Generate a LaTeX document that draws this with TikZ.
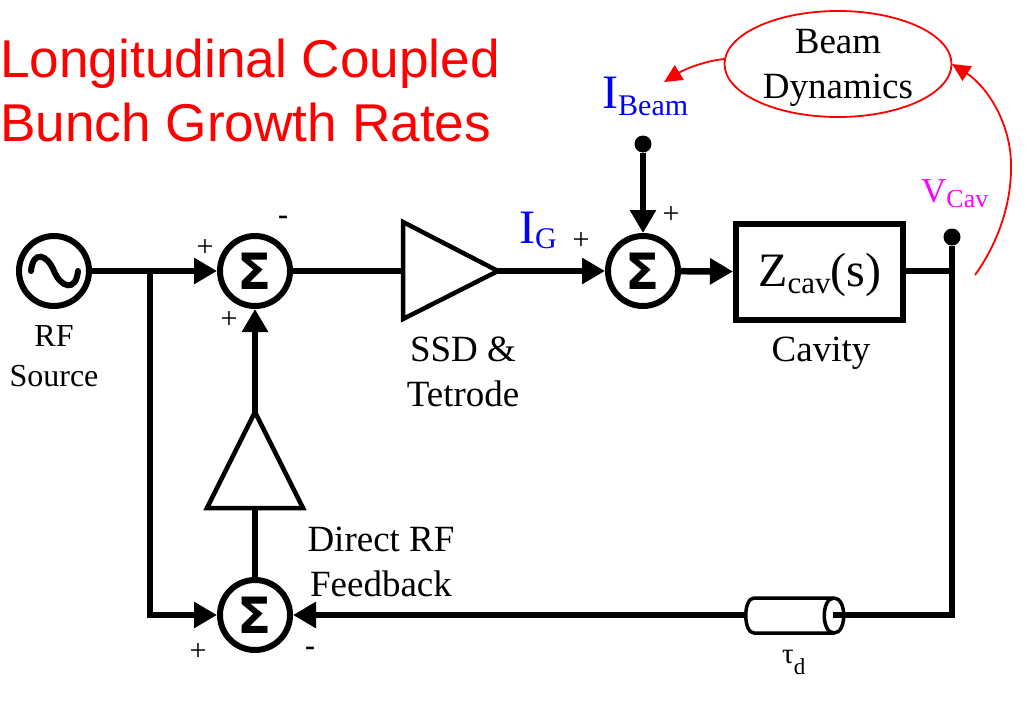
\documentclass[tikz,border=0pt]{standalone}
\usepackage{fontspec}
\setmainfont{Liberation Serif}
\newfontfamily\titlefont{Liberation Sans}
\newfontfamily\sigmafont{DejaVu Sans Bold}
\usetikzlibrary{arrows.meta,calc,shapes.geometric}
\definecolor{tred}{RGB}{255,0,0}
\definecolor{tblue}{RGB}{0,0,255}
\definecolor{tmag}{RGB}{255,0,255}
\newcommand\bigsub[5]{{\fontsize{#2}{#2}\selectfont #1}\raisebox{-#5pt}{\fontsize{#4}{#4}\selectfont #3}}
\tikzset{
  x=1pt,y=-1pt,
  wire/.style={line width=6.5pt,line join=miter},
  flow/.style={wire,-{Triangle[length=23pt,width=25pt]}},
  sumnode/.style={circle,draw,line width=6pt,minimum size=70pt,inner sep=0pt,font=\sigmafont\fontsize{50}{50}\selectfont},
  dotnode/.style={circle,fill=black,minimum size=17pt,inner sep=0pt},
  lab/.style={font=\fontsize{37}{45}\selectfont,align=center,inner sep=0pt},
  small/.style={font=\fontsize{32}{40}\selectfont,align=center,inner sep=0pt},
  sign/.style={font=\fontsize{30}{30}\selectfont,inner sep=0pt},
  minus/.style={font=\bfseries\fontsize{30}{30}\selectfont,inner sep=0pt},
  basew/.style={anchor=base west,inner sep=0pt},
  titletext/.style={basew,font=\titlefont\fontsize{53.2}{53.2}\selectfont,text=tred},
  redflow/.style={draw=tred,line width=1.8pt,-{Triangle[length=18pt,width=17pt]}},
  tri/.style={line width=4.5pt,line join=miter,fill=white},
}
\begin{document}
\begin{tikzpicture}
\useasboundingbox (0,0) rectangle (1028,726);
% nodes
\node[sumnode] (src) at (54,271) {};
\draw[line width=6pt,line cap=round] (31,271) .. controls (33,250) and (47,254) .. (54,271) .. controls (61,288) and (76,292) .. (78,271);
\node[sumnode] (s1) at (255,271) {Σ};
\node[sumnode] (s2) at (643,271) {Σ};
\node[sumnode] (s3) at (255,615) {Σ};
\node[draw,line width=6pt,minimum width=167pt,minimum height=96pt,inner sep=0pt] (cav) at (819.5,272) {};
\node[basew] (cavt) at (758,286) {\bigsub{Z}{48}{cav}{31}{7}{\fontsize{48}{48}\selectfont (s)}};
\node[dotnode] (ibd) at (643,144) {};
\node[dotnode] (vcd) at (952,237) {};
\coordinate (t1a) at (403,222);
\coordinate (t1b) at (403,319);
\coordinate (t1c) at (498,271);
\coordinate (t1in) at (403,271);
\coordinate (t2a) at (255,412);
\coordinate (t2b) at (207,508);
\coordinate (t2c) at (303,508);
\coordinate (t2in) at (255,508);
\coordinate (j1) at (150,271);
\coordinate (j2) at (150,615);
\coordinate (j3) at (952,271);
\coordinate (j4) at (952,615);
\coordinate (dl) at (748,615);
\coordinate (dr) at (834,615);
% wires
\draw[wire] (src) -- (j1);
\draw[flow] (j1) -- (s1);
\draw[flow] (j1) -- (j2) -- (s3);
\draw[wire] (s1) -- (t1in);
\draw[flow] (t1c) -- (s2);
\draw[flow] (ibd) -- (s2);
\draw[flow] (s2) -- (cav);
\draw[wire] (cav.east |- j3) -- (j3);
\draw[wire] (vcd) -- (j4) -- (dr);
\draw[flow] (dl) -- (s3);
\draw[flow] (t2a) -- (s1);
\draw[wire] (s3) -- (t2in);
% triangles
\draw[tri] (t1a) -- (t1c) -- (t1b) -- cycle;
\draw[tri] (t2a) -- (t2c) -- (t2b) -- cycle;
% delay cylinder
\draw[line width=3.5pt,fill=white] (754,598) -- (834,598) .. controls (847,598) and (847,633) .. (834,633) -- (754,633) .. controls (743,633) and (743,598) .. (754,598) -- cycle;
\draw[line width=3.5pt] (834,598) .. controls (821,598) and (821,633) .. (834,633);
\draw[wire] (833,615) -- (850,615);
% red
\node[draw=tred,line width=1.8pt,ellipse,minimum width=227pt,minimum height=106pt,inner sep=0pt] (bd) at (838,64) {};
\node[lab] (bdt) at (838,68) {Beam\\Dynamics};
\coordinate (bdl) at (724,59);
\coordinate (bdr) at (952,64);
\coordinate (vs) at (975,275);
\coordinate (ib) at (664,82);
\draw[redflow] (bdl) .. controls (705,61) and (685,69) .. (ib);
\draw[redflow] (vs) .. controls (1000,240) and (1012,200) .. (1011,163) .. controls (1010,120) and (985,85) .. (bdr);
% text
\node[titletext] (ti1) at (0,77) {Longitudinal Coupled};
\node[titletext] (ti2) at (0,141) {Bunch Growth Rates};
\node[small] (rf) at (54,356) {RF\\Source};
\node[lab] (ssd) at (463,372) {SSD \&\\Tetrode};
\node[lab] (cv) at (821,353) {Cavity};
\node[lab] (drf) at (381,562) {Direct RF\\Feedback};
\node[basew,text=tblue] (ig) at (519,243) {\bigsub{I}{48}{G}{30}{5}};
\node[basew,text=tblue] (ibt) at (602,108) {\bigsub{I}{48}{Beam}{30}{7}};
\node[basew,text=tmag] (vc) at (921,202) {\bigsub{V}{35}{Cav}{26}{5}};
\node[basew] (tau) at (782,663) {\bigsub{τ}{29}{d}{23}{11}};
\node[sign] (p1) at (205,248) {+};
\node[sign] (p2) at (229,320) {+};
\node[minus] (m1) at (283,220) {-};
\node[sign] (p3) at (581,241) {+};
\node[sign] (p4) at (671,215) {+};
\node[sign] (p5) at (198,652) {+};
\node[minus] (m2) at (310,651) {-};
\end{tikzpicture}
\end{document}
